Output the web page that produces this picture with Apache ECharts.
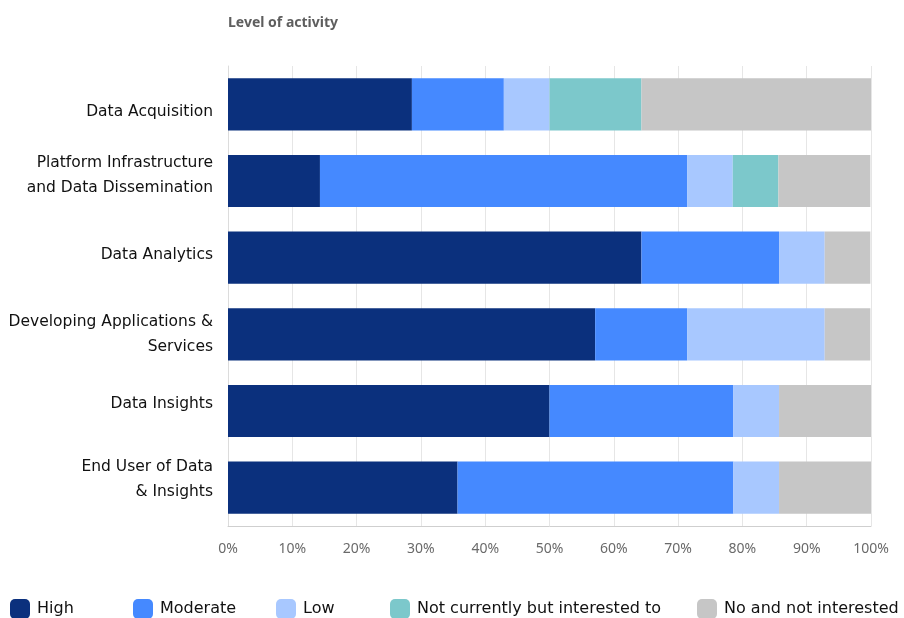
<!DOCTYPE html>
<html>
<head>
<meta charset="utf-8">
<script src="https://cdn.jsdelivr.net/npm/echarts@6/dist/echarts.min.js"></script>
<style>
  html, body { margin: 0; padding: 0; background: #ffffff; }
  #chart { width: 904px; height: 618px; }
</style>
</head>
<body>
<div id="chart"></div>
<script>
// Activity areas (top to bottom)
const categories = [
  'Data Acquisition',
  'Platform Infrastructure\nand Data Dissemination',
  'Data Analytics',
  'Developing Applications &\nServices',
  'Data Insights',
  'End User of Data\n& Insights'
];

// Share of respondents per level of activity (%)
const high       = [28.6, 14.3, 64.3, 57.1, 50.0, 35.7];
const moderate   = [14.3, 57.1, 21.4, 14.3, 28.6, 42.9];
const low        = [7.1,  7.1,  7.1,  21.4, 7.1,  7.1];
const interested = [14.3, 7.1,  0,    0,    0,    0];
const notInt     = [35.7, 14.3, 7.1,  7.1,  14.3, 14.3];

const seriesNames = ['High', 'Moderate', 'Low', 'Not currently but interested to', 'No and not interested'];
const seriesData = [high, moderate, low, interested, notInt];

const xTicks = [0, 10, 20, 30, 40, 50, 60, 70, 80, 90, 100];

// ---- styling ----
const seriesColors = ['#0b307d', '#4589ff', '#a8c8ff', '#7cc8cb', '#c6c6c6'];
const legendLeft = [5, 128, 271, 385, 692];
// vertical nudge of each category label (px, positive = down)
const labelShift = [8, -6, -3, 0, -7, -8];

const labelFont = 'DejaVu Sans';
const labelSize = 15.5;
const labelLine = 25;

// Rich styles: one text style plus an invisible spacer line per label,
// so each label block can be nudged up or down without touching line spacing.
const rich = {
  t: { fontFamily: labelFont, fontSize: labelSize, lineHeight: labelLine, color: '#111111', align: 'right' }
};
labelShift.forEach((s, i) => {
  rich['sp' + i] = { fontSize: 1, lineHeight: Math.max(1, 2 * Math.abs(s)), color: 'transparent' };
});

function formatCategory(value) {
  const i = categories.indexOf(value);
  const s = labelShift[i];
  const body = value.split('\n').map(ln => '{t|' + ln + '}');
  const spacer = '{sp' + i + '| }';
  if (s > 0) body.unshift(spacer);
  else if (s < 0) body.push(spacer);
  return body.join('\n');
}

const chart = echarts.init(document.getElementById('chart'), null, { renderer: 'canvas' });

chart.setOption({
  animation: false,
  backgroundColor: '#ffffff',
  title: {
    text: 'Level of activity',
    left: 223,
    top: 11,
    textStyle: { fontFamily: 'Noto Sans', fontSize: 14, fontWeight: 'bold', color: '#5e5e5e' }
  },
  legend: seriesNames.map((name, i) => ({
    data: [name],
    left: legendLeft[i],
    top: 594,
    icon: 'roundRect',
    itemWidth: 20,
    itemHeight: 20,
    itemGap: 0,
    textStyle: { fontFamily: labelFont, fontSize: 16, color: '#111111', padding: [0, 0, 0, 2] },
    selectedMode: false
  })),
  grid: { left: 228, right: 33, top: 66, bottom: 92, containLabel: false },
  xAxis: {
    type: 'value',
    min: xTicks[0],
    max: xTicks[xTicks.length - 1],
    interval: 10,
    axisLine: { show: true, lineStyle: { color: '#cfcfcf' } },
    axisTick: { show: false },
    axisLabel: {
      formatter: v => v + '%',
      color: '#6a6a6a',
      fontFamily: 'Noto Sans',
      fontSize: 14,
      margin: 16
    },
    splitLine: { show: true, lineStyle: { color: '#e6e6e6' } }
  },
  yAxis: {
    type: 'category',
    data: categories,
    inverse: true,
    axisLine: { show: true, lineStyle: { color: '#dcdcdc' } },
    axisTick: { show: false },
    axisLabel: {
      color: '#111111',
      fontFamily: labelFont,
      fontSize: labelSize,
      lineHeight: labelLine,
      margin: 15,
      align: 'right',
      formatter: formatCategory,
      rich: rich
    }
  },
  series: seriesNames.map((name, i) => ({
    name: name,
    type: 'bar',
    stack: 'total',
    data: seriesData[i],
    barWidth: '68%',
    itemStyle: { color: seriesColors[i], borderRadius: 0 },
    emphasis: { disabled: true }
  }))
});
</script>
</body>
</html>
